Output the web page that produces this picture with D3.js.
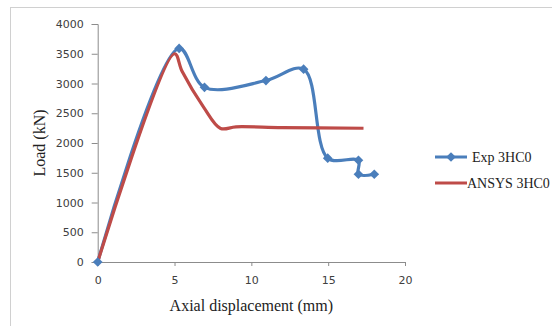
<!DOCTYPE html>
<html>
<head>
<meta charset="utf-8">
<script src="https://cdn.jsdelivr.net/npm/d3@7"></script>
<style>
  body { margin: 0; background: #fff; }
  svg { display: block; }
</style>
</head>
<body>
<div id="LoadChart"></div>
<script>
// series
const expX = [0, 5.3, 6.95, 10.95, 13.4, 14.97, 16.97, 16.97, 18];
const expY = [0, 3590, 2935, 3050, 3240, 1745, 1710, 1475, 1475];
const ansysX = [0, 5, 5.5, 6.9, 8, 9, 12, 17.3];
const ansysY = [0, 3500, 3200, 2600, 2245, 2272, 2258, 2248];

const xTicks = [0, 5, 10, 15, 20];
const yTicks = [0, 500, 1000, 1500, 2000, 2500, 3000, 3500, 4000];
const seriesNames = ["Exp 3HC0", "ANSYS 3HC0"];
const seriesColors = ["#4a7ebb", "#be4b48"];

const width = 552, height = 326;
const plotLeft = 97.7, plotRight = 405, plotTop = 24, plotBottom = 262;

let svg = d3.select("#LoadChart")
  .append("svg")
  .attr("width", width)
  .attr("height", height);

// chart frame (runs off the right and bottom edge)
svg.append("rect")
  .attr("x", 10.5).attr("y", 7.5)
  .attr("width", 600).attr("height", 400)
  .attr("fill", "none")
  .attr("stroke", "#d0d0d0")
  .attr("stroke-width", 1);

let x = d3.scaleLinear().domain([0, 20]).range([plotLeft, plotRight]);
let y = d3.scaleLinear().domain([0, 4000]).range([plotBottom, plotTop]);

let xAxis = d3.axisBottom(x).tickValues(xTicks).tickFormat(d3.format("d"))
  .tickSize(4).tickPadding(10);
let yAxis = d3.axisLeft(y).tickValues(yTicks).tickFormat(d3.format("d"))
  .tickSize(6).tickPadding(8);

let gx = svg.append("g")
  .attr("transform", "translate(0," + plotBottom + ")")
  .call(xAxis);
let gy = svg.append("g")
  .attr("transform", "translate(" + plotLeft + ",0)")
  .call(yAxis);

[gx, gy].forEach(g => {
  g.select(".domain").attr("stroke", "#8c8c8c");
  g.selectAll(".tick line").attr("stroke", "#8c8c8c");
  g.selectAll(".tick text")
    .style("font-family", "'DejaVu Sans', Verdana, sans-serif")
    .style("font-size", "11px")
    .attr("fill", "#404040");
});

// axis titles
svg.append("text")
  .attr("x", (plotLeft + plotRight) / 2)
  .attr("y", 311)
  .style("text-anchor", "middle")
  .style("font-family", "'Liberation Serif', 'Times New Roman', serif")
  .style("font-size", "16px")
  .attr("fill", "#222")
  .text("Axial displacement (mm)");

svg.append("text")
  .attr("transform", "translate(45," + 143 + ") rotate(-90)")
  .style("text-anchor", "middle")
  .style("font-family", "'Liberation Serif', 'Times New Roman', serif")
  .style("font-size", "16px")
  .attr("fill", "#222")
  .text("Load (kN)");

// smoothed like the excel lines, centripetal so peaks don't overshoot much
let line = d3.line()
  .x(d => x(d[0]))
  .y(d => y(d[1]))
  .curve(d3.curveCatmullRom.alpha(0.5));

let expData = expX.map((v, i) => [v, expY[i]]);
let ansysData = ansysX.map((v, i) => [v, ansysY[i]]);

svg.append("path")
  .datum(expData)
  .attr("d", line)
  .attr("fill", "none")
  .attr("stroke", seriesColors[0])
  .attr("stroke-width", 3.2)
  .attr("stroke-linejoin", "round");

svg.append("path")
  .datum(ansysData)
  .attr("d", line)
  .attr("fill", "none")
  .attr("stroke", seriesColors[1])
  .attr("stroke-width", 3.2)
  .attr("stroke-linejoin", "round");

let diamond = d3.symbol().type(d3.symbolDiamond2).size(60);

svg.selectAll(".expMarker")
  .data(expData)
  .enter()
  .append("path")
  .attr("class", "expMarker")
  .attr("d", diamond)
  .attr("transform", d => "translate(" + x(d[0]) + "," + y(d[1]) + ")")
  .attr("fill", seriesColors[0]);

// legend
let legend = svg.append("g");
let legendY = [157, 183];
seriesNames.forEach((name, i) => {
  legend.append("line")
    .attr("x1", 435).attr("x2", 467)
    .attr("y1", legendY[i]).attr("y2", legendY[i])
    .attr("stroke", seriesColors[i])
    .attr("stroke-width", 3);
  if (i === 0) {
    legend.append("path")
      .attr("d", diamond)
      .attr("transform", "translate(451," + legendY[i] + ")")
      .attr("fill", seriesColors[i]);
  }
  legend.append("text")
    .attr("x", i === 0 ? 472 : 467)
    .attr("y", legendY[i] + 5)
    .style("font-family", "'Liberation Serif', 'Times New Roman', serif")
    .style("font-size", "14px")
    .attr("fill", "#222")
    .text(name);
});
</script>
</body>
</html>
